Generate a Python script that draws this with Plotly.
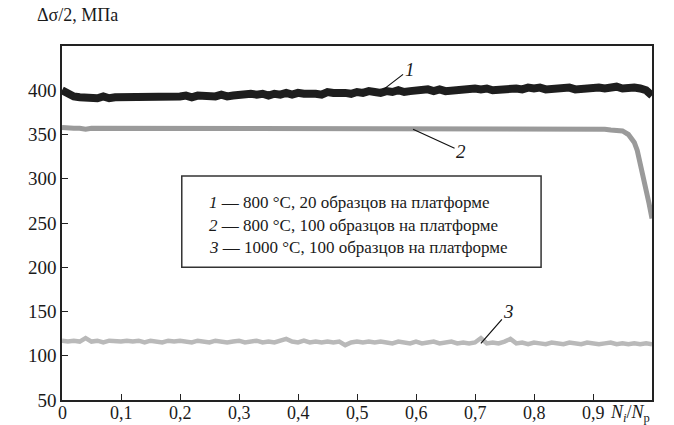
import plotly.graph_objects as go

# ---- data ----
x_main = [i / 100 for i in range(101)]

curve1 = [
    400, 396, 393, 392, 391, 392, 391, 393, 391, 392,
    392, 391, 393, 392, 391, 393, 392, 392, 393, 392,
    393, 394, 392, 394, 393, 394, 393, 395, 393, 394,
    395, 394, 396, 395, 396, 394, 396, 395, 397, 395,
    397, 396, 397, 396, 395, 398, 397, 398, 397, 396,
    398, 397, 399, 398, 397, 399, 398, 400, 398, 399,
    400, 399, 401, 399, 401, 399, 400, 401, 400, 401,
    402, 401, 402, 400, 401, 402, 401, 402, 401, 403,
    402, 403, 401, 402, 403, 402, 403, 401, 402, 403,
    402, 403, 402, 403, 404, 402, 403, 403, 402, 400,
    394,
]

x_c2 = [i / 100 for i in range(96)] + [0.96, 0.965, 0.97, 0.975, 0.98, 0.985, 0.99, 0.995, 1.0]
curve2 = [
    358, 357, 357, 357, 356, 357, 357, 356, 357, 356,
    357, 356, 357, 357, 356, 357, 356, 357, 356, 357,
    356, 357, 357, 356, 357, 356, 357, 356, 357, 356,
    357, 356, 357, 356, 357, 357, 356, 357, 356, 357,
    356, 357, 356, 357, 356, 357, 356, 357, 356, 357,
    356, 357, 356, 357, 356, 357, 356, 356, 357, 356,
    356, 357, 356, 356, 356, 357, 356, 356, 356, 357,
    356, 356, 356, 357, 356, 356, 356, 356, 356, 356,
    356, 356, 356, 356, 356, 356, 356, 356, 356, 356,
    356, 356, 356, 355, 355, 354,
    350, 346, 341, 332, 318, 305, 291, 272, 255,
]

curve3 = [
    117, 116, 117, 116, 120, 116, 117, 115, 117, 116,
    116, 117, 116, 117, 115, 117, 116, 115, 117, 116,
    117, 116, 115, 117, 116, 115, 117, 116, 115, 116,
    117, 115, 116, 117, 115, 116, 115, 117, 119, 116,
    115, 117, 115, 116, 115, 116, 115, 116, 112, 115,
    116, 115, 116, 115, 116, 115, 114, 116, 115, 114,
    116, 114, 115, 116, 114, 115, 116, 114, 115, 114,
    115, 120, 114, 115, 114, 116, 119, 114, 115, 113,
    115, 114, 113, 115, 114, 113, 115, 114, 113, 115,
    114, 113, 114, 115, 113, 114, 113, 114, 113, 114,
    113,
]

x_tickvals = [0, 0.1, 0.2, 0.3, 0.4, 0.5, 0.6, 0.7, 0.8, 0.9]
x_ticktext = ["0", "0,1", "0,2", "0,3", "0,4", "0,5", "0,6", "0,7", "0,8", "0,9"]
y_tickvals = [50, 100, 150, 200, 250, 300, 350, 400]

legend_lines = [
    "<i>1</i> — 800 °C, 20 образцов на платформе",
    "<i>2</i> — 800 °C, 100 образцов на платформе",
    "<i>3</i> — 1000 °C, 100 образцов на платформе",
]

FONT = "Liberation Serif"

fig = go.Figure()
fig.add_trace(go.Scatter(x=x_main, y=curve3, mode="lines",
                         line=dict(color="#b9b9b9", width=4.5), hoverinfo="skip"))
fig.add_trace(go.Scatter(x=x_c2, y=curve2, mode="lines",
                         line=dict(color="#9a9a9a", width=5), hoverinfo="skip"))
fig.add_trace(go.Scatter(x=x_main, y=curve1, mode="lines",
                         line=dict(color="#1e1e1e", width=8), hoverinfo="skip"))

fig.update_layout(
    width=674, height=425,
    margin=dict(l=62, r=22, t=46, b=25, pad=0, autoexpand=False),
    paper_bgcolor="white", plot_bgcolor="white",
    showlegend=False,
    font=dict(family=FONT, size=19, color="#1a1a1a"),
)
fig.update_xaxes(
    range=[0, 1], tickvals=x_tickvals, showticklabels=False,
    ticks="inside", ticklen=6, tickwidth=1.3, tickcolor="#222",
    showline=True, linecolor="#222", linewidth=1.5, mirror=True,
    showgrid=False, zeroline=False, fixedrange=True, automargin=False,
)
fig.update_yaxes(
    range=[50, 450], tickvals=y_tickvals,
    ticks="inside", ticklen=6, tickwidth=1.3, tickcolor="#222",
    showline=True, linecolor="#222", linewidth=1.5, mirror=True,
    showgrid=False, zeroline=False, fixedrange=True, automargin=False,
    tickfont=dict(family=FONT, size=19),
)

# x tick labels (comma decimals) as text annotations under the axis
for tv, tt in zip(x_tickvals, x_ticktext):
    fig.add_annotation(x=tv, xref="x", y=0, yref="paper", text=tt,
                       xanchor="center", yanchor="middle", yshift=-13,
                       showarrow=False, font=dict(size=18, family=FONT))
fig.add_annotation(xref="paper", yref="paper", x=1.0, y=0,
                   xanchor="right", yanchor="middle", yshift=-13, showarrow=False,
                   text="<i>N<sub>i</sub></i>/<i>N</i><sub>p</sub>",
                   font=dict(size=18, family=FONT))

fig.add_annotation(xref="paper", yref="paper", x=-0.045, y=1.055,
                   xanchor="left", yanchor="bottom", showarrow=False,
                   text="Δσ/2, МПа", font=dict(size=18, family=FONT))

fig.add_shape(type="rect", xref="paper", yref="paper",
              x0=0.203, x1=0.812, y0=0.375, y1=0.633,
              line=dict(color="#333", width=1.5), fillcolor="white", layer="above")
for txt, yy in zip(legend_lines, [0.557, 0.493, 0.431]):
    fig.add_annotation(xref="paper", yref="paper", x=0.245, y=yy,
                       xanchor="left", yanchor="middle", showarrow=False,
                       text=txt, font=dict(size=17, family=FONT))

fig.add_annotation(x=0.545, y=401, xref="x", yref="y", text="<i>1</i>",
                   showarrow=True, arrowhead=0, arrowwidth=1.2, arrowcolor="#111",
                   ax=26, ay=-20, font=dict(size=19, family=FONT))
fig.add_annotation(x=0.595, y=356, xref="x", yref="y", text="<i>2</i>",
                   showarrow=True, arrowhead=0, arrowwidth=1.2, arrowcolor="#111",
                   ax=48, ay=22, font=dict(size=19, family=FONT))
fig.add_annotation(x=0.71, y=114, xref="x", yref="y", text="<i>3</i>",
                   showarrow=True, arrowhead=0, arrowwidth=1.2, arrowcolor="#111",
                   ax=28, ay=-32, font=dict(size=19, family=FONT))

fig.write_html("out.html")
